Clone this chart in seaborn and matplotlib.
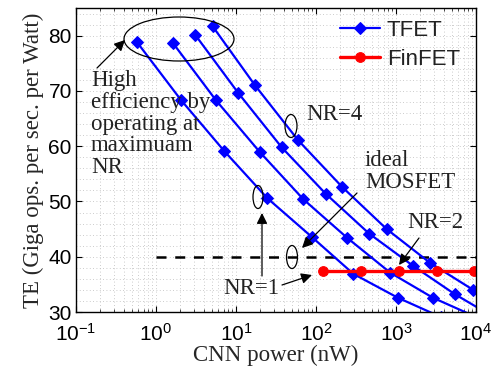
import numpy as np
import pandas as pd
import seaborn as sns
import matplotlib
matplotlib.use("Agg")
import matplotlib.pyplot as plt
from matplotlib.patches import Ellipse
from matplotlib.ticker import MultipleLocator, LogLocator, NullFormatter

# ---- data ----
nr1_x = [0.58, 2.04, 7.15, 24.6, 88.3, 293, 1048, 3630]
nr1_y = [78.8, 68.4, 59.1, 50.6, 43.6, 36.9, 32.6, 29.1]
nr2_x = [1.62, 5.62, 19.95, 69.4, 246, 850, 2875, 10000]
nr2_y = [78.7, 68.3, 58.9, 50.4, 43.4, 37.1, 32.6, 29.1]
nr3_x = [3.07, 10.7, 37.2, 132, 460, 1617, 5465, 19000]
nr3_y = [80.2, 69.6, 59.8, 51.4, 44.2, 38.4, 33.2, 28.6]
nr4_x = [5.1, 17.3, 60, 213, 765, 2660, 9100, 31000]
nr4_y = [81.7, 71.0, 61.05, 52.6, 45.0, 38.9, 34.05, 29.65]
finfet_x = [123, 362, 1100, 3281, 9520]
finfet_y = [37.4, 37.4, 37.4, 37.4, 37.4]
ideal_x = [1, 10000]
ideal_y = [40, 40]
xticks = [0.1, 1, 10, 100, 1000, 10000]
yticks = [30, 40, 50, 60, 70, 80]

sns.set_style("ticks")
plt.rcParams["font.family"] = ["Liberation Sans", "DejaVu Sans"]
plt.rcParams["mathtext.fontset"] = "custom"
plt.rcParams["mathtext.rm"] = "Liberation Sans"
plt.rcParams["mathtext.it"] = "Liberation Sans:italic"

fig = plt.figure(figsize=(4.95, 3.77), dpi=100)
ax = fig.add_axes([76/495, 1-312/377, 400/495, 304/377])

blue = "#0000ff"
red = "#ff0000"
for i, (xs, ys) in enumerate([(nr1_x, nr1_y), (nr2_x, nr2_y), (nr3_x, nr3_y), (nr4_x, nr4_y)]):
    sns.lineplot(x=xs, y=ys, ax=ax, color=blue, marker="D", markersize=6.5,
                 markeredgecolor=blue, linewidth=1.6, sort=False, estimator=None,
                 label="TFET" if i == 0 else None, legend=False)
sns.lineplot(x=finfet_x, y=finfet_y, ax=ax, color=red, marker="o", markersize=7,
             markeredgecolor=red, linewidth=2.4, sort=False, estimator=None,
             label="FinFET", legend=False)
sns.lineplot(x=ideal_x, y=ideal_y, ax=ax, color="black", linewidth=1.8,
             sort=False, estimator=None, legend=False, dashes=False)
ax.lines[-1].set_dashes((4, 3.5))
ax.lines[-1].set_zorder(1.5)

ax.set_xscale("log")
ax.set_xlim(0.1, 10000)
ax.set_ylim(30, 85)
ax.set_xticks(xticks)
ax.set_yticks(yticks)
ax.xaxis.set_minor_locator(LogLocator(base=10, subs=np.arange(2, 10)))
ax.xaxis.set_minor_formatter(NullFormatter())
ax.yaxis.set_minor_locator(MultipleLocator(2))
ax.tick_params(which="major", direction="in", length=4, width=0.8,
               top=True, right=True, labelsize=15, colors="black")
ax.tick_params(axis="x", which="major", pad=8)
ax.tick_params(axis="y", which="major", pad=3)
ax.tick_params(axis="x", which="minor", direction="in", length=2.5, width=0.6,
               top=True, bottom=True)
ax.tick_params(axis="y", which="minor", length=0)
ax.grid(True, which="both", linestyle=(0, (1, 3)), color="#bbbbbb", linewidth=0.6)
ax.set_axisbelow(True)
for s in ax.spines.values():
    s.set_linewidth(1.0)
    s.set_color("black")

serif = ["Liberation Serif", "DejaVu Serif"]
ax.set_xlabel("CNN power (nW)", fontsize=16.5, family=serif, labelpad=0)
ax.set_ylabel("TE (Giga ops. per sec. per Watt)", fontsize=16.5, family=serif, labelpad=3)

def fx(px):
    return (px - 76) / 400.0

def fy(py):
    return (312 - py) / 304.0

# ellipses
for cx, cy, w, h in [(179, 39, 110, 44), (291, 126, 12, 23), (258, 197, 10, 23), (292, 257, 11, 23)]:
    ax.add_patch(Ellipse((fx(cx), fy(cy)), w/400.0, h/304.0, transform=ax.transAxes,
                         fill=False, edgecolor="black", linewidth=0.9, zorder=5))

tcol = "#222222"
ax.text(fx(91), fy(70), "High\nefficiency by\noperating at\nmaximuam\nNR", transform=ax.transAxes,
        family=serif, fontsize=16.5, ha="left", va="top", linespacing=1.05, color=tcol, zorder=6)
ax.text(fx(334), fy(115), "NR=4", transform=ax.transAxes, family=serif, fontsize=16.5,
        ha="center", va="center", color=tcol)
ax.text(fx(365), fy(150), "ideal\nMOSFET", transform=ax.transAxes, family=serif, fontsize=16.5,
        ha="left", va="top", linespacing=1.05, color=tcol)
ax.text(fx(435), fy(223), "NR=2", transform=ax.transAxes, family=serif, fontsize=16.5,
        ha="center", va="center", color=tcol)
ax.text(fx(251), fy(288), "NR=1", transform=ax.transAxes, family=serif, fontsize=16.5,
        ha="center", va="center", color=tcol)

arrows = [((97, 68), (125, 40)), ((357, 193), (302, 248)), ((419, 238), (399, 265)),
          ((282, 285), (312, 275)), ((262, 276), (262, 213))]
for (x0, y0), (x1, y1) in arrows:
    ax.annotate("", xy=(fx(x1), fy(y1)), xytext=(fx(x0), fy(y0)),
                xycoords="axes fraction", textcoords="axes fraction",
                arrowprops=dict(arrowstyle="-|>", color="black", lw=0.9,
                                mutation_scale=16, shrinkA=0, shrinkB=0), zorder=6)

leg = ax.legend(loc="upper left", bbox_to_anchor=(fx(340), fy(20)), frameon=False,
                fontsize=16, handlelength=1.8, handletextpad=0.3, labelspacing=0.35,
                borderpad=0, borderaxespad=0)
for t in leg.get_texts():
    t.set_color(tcol)

fig.savefig("out.png", dpi=100)
